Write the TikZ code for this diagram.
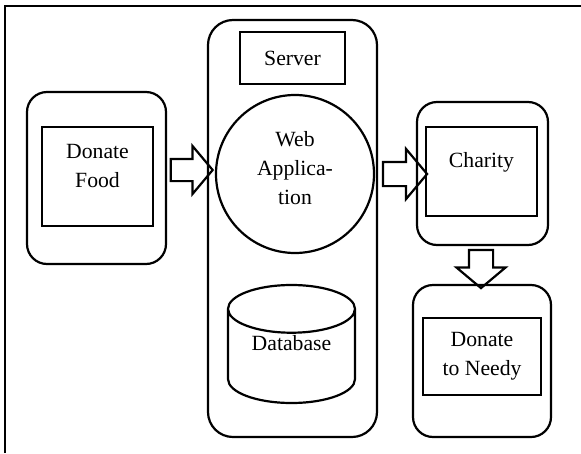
\documentclass[tikz,border=0pt]{standalone}
\usepackage{fontspec}
\setmainfont{Liberation Serif}
\usepackage{tikz}
\usetikzlibrary{shapes.geometric, shapes.arrows, calc}
\tikzstyle{outerbox} = [rectangle, rounded corners=20pt, draw=black, line width=2.2pt]
\tikzstyle{innerbox} = [rectangle, draw=black, line width=2.2pt]
\tikzstyle{txt} = [align=center, font=\fontsize{21.7}{29}\selectfont, inner sep=0pt]
\tikzstyle{blockarrow} = [single arrow, draw=black, line width=2.2pt, inner sep=0pt, single arrow tip angle=100]

\begin{document}
\begin{tikzpicture}[x=1pt, y=-1pt]
\useasboundingbox (0,0) rectangle (581,453);
\draw [line width=1.8pt] (5,453) |- (581,6);

\node (food) [outerbox, minimum width=139pt, minimum height=172pt] at (96.5,178) {};
\node (foodbox) [innerbox, minimum width=111pt, minimum height=99pt] at (97.5,176.5) {};
\node (foodtxt) [txt] at (97.5,166) {Donate\\Food};

\node (server) [outerbox, rounded corners=25pt, minimum width=169pt, minimum height=417pt] at (292.5,228.5) {};
\node (servertxt) [innerbox, txt, minimum width=105pt, minimum height=52pt] at (292.5,58) {Server};
\node (webapp) [circle, draw=black, line width=2.2pt, minimum size=158pt] at (295,174) {};
\node (webtxt) [txt] at (295,168) {Web\\Applica-\\tion};
\node (db) [cylinder, shape border rotate=90, draw=black, line width=2.2pt, aspect=0.6, minimum width=127pt, minimum height=118pt, txt, anchor=shape center] at (291.5,344) {\raisebox{28pt}{Database}};

\node (charity) [outerbox, minimum width=131pt, minimum height=143pt] at (482.5,173.5) {};
\node (charitybox) [innerbox, minimum width=111pt, minimum height=89pt] at (481.5,171.5) {};
\node (charitytxt) [txt] at (481.5,162) {Charity};

\node (needy) [outerbox, minimum width=138pt, minimum height=152pt] at (482,361) {};
\node (needytxt) [innerbox, txt, minimum width=118pt, minimum height=77pt] at (482,356.5) {Donate\\to Needy};

\node (arr1) [blockarrow, inner ysep=10pt, single arrow head extend=13pt, minimum height=42pt] at (187,170) {};
\node (arr2) [blockarrow, inner ysep=11pt, single arrow head extend=13pt, minimum height=44pt] at (400,174) {};
\node (arr3) [blockarrow, shape border rotate=270, inner xsep=11pt, single arrow head extend=12.5pt, minimum height=38pt] at (481,264) {};
\end{tikzpicture}
\end{document}
